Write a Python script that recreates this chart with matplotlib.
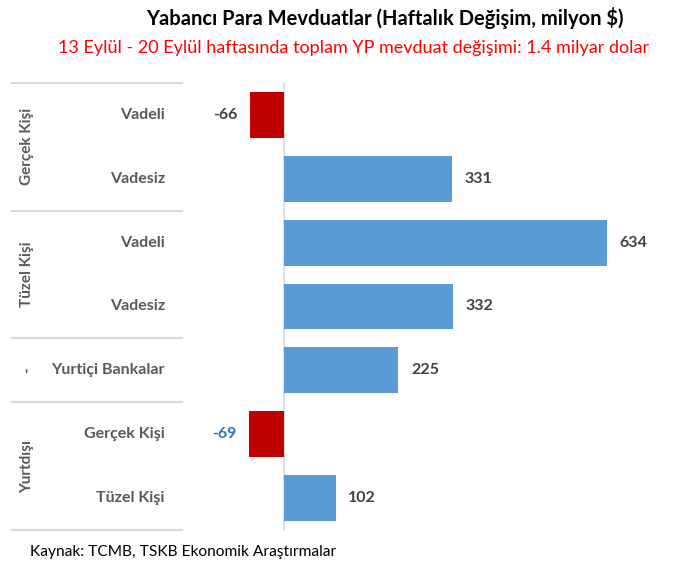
import matplotlib.pyplot as plt
from matplotlib.transforms import blended_transform_factory

plt.rcParams['font.family'] = ['Lato', 'DejaVu Sans']

# data
categories = ["Vadeli", "Vadesiz", "Vadeli", "Vadesiz", "Yurtiçi Bankalar", "Gerçek Kişi", "Tüzel Kişi"]
values = [-66, 331, 634, 332, 225, -69, 102]
groups = ["Gerçek Kişi", "Tüzel Kişi", "-", "Yurtdışı"]
group_centers = [0.5, 2.5, 4.0, 5.5]
separators = [-0.5, 1.5, 3.5, 4.5, 6.5]

blue = "#5B9BD5"
red = "#C00000"
label_gray = "#595959"

fig = plt.figure(figsize=(6.73, 5.65), dpi=100)
ax = fig.add_axes([200 / 673, 1 - 530 / 565, 460 / 673, 447 / 565])

colors = [red if v < 0 else blue for v in values]
ypos = list(range(len(values)))
ax.barh(ypos, values, height=0.72, color=colors, zorder=2)

ax.set_xlim(-165, 739)
ax.set_ylim(6.5, -0.5)
ax.axvline(0, color="#D9D9D9", lw=1.2, zorder=1)

for sp in ax.spines.values():
    sp.set_visible(False)
ax.set_xticks([])
ax.set_yticks([])

# value labels
for i, v in enumerate(values):
    lab_color = "#404040"
    if i == 5:
        lab_color = "#2E75B6"
    if v < 0:
        ax.annotate(str(v), (v, i), xytext=(-9, 0), textcoords="offset points",
                    ha="right", va="center", fontsize=11.5, fontweight="bold", color=lab_color)
    else:
        ax.annotate(str(v), (v, i), xytext=(9, 0), textcoords="offset points",
                    ha="left", va="center", fontsize=11.5, fontweight="bold", color=lab_color)

# left-hand labels and separators
tr = blended_transform_factory(fig.transFigure, ax.transData)
for i, c in enumerate(categories):
    fig.text(165 / 673, i, c, transform=tr, ha="right", va="center",
             fontsize=11.5, fontweight="bold", color=label_gray)
for g, yc in zip(groups, group_centers):
    fig.text(27 / 673, yc, g, transform=tr, ha="center", va="center", rotation=90,
             fontsize=11, fontweight="bold", color=label_gray)
for s in separators:
    ax.plot([12 / 673, 182 / 673], [s, s], transform=tr, color="#D9D9D9", lw=1.5, clip_on=False)

fig.text(385 / 673, 1 - 18 / 565, "Yabancı Para Mevduatlar (Haftalık Değişim, milyon $)",
         ha="center", va="center", fontsize=14.5, fontweight="bold", color="black")
fig.text(354 / 673, 1 - 48 / 565, "13 Eylül - 20 Eylül haftasında toplam YP mevduat değişimi: 1.4 milyar dolar",
         ha="center", va="center", fontsize=13, color="#FF0000")
fig.text(30 / 673, 1 - 552 / 565, "Kaynak: TCMB, TSKB Ekonomik Araştırmalar",
         ha="left", va="center", fontsize=11.2, color="black")

fig.savefig("out.png", dpi=100)
